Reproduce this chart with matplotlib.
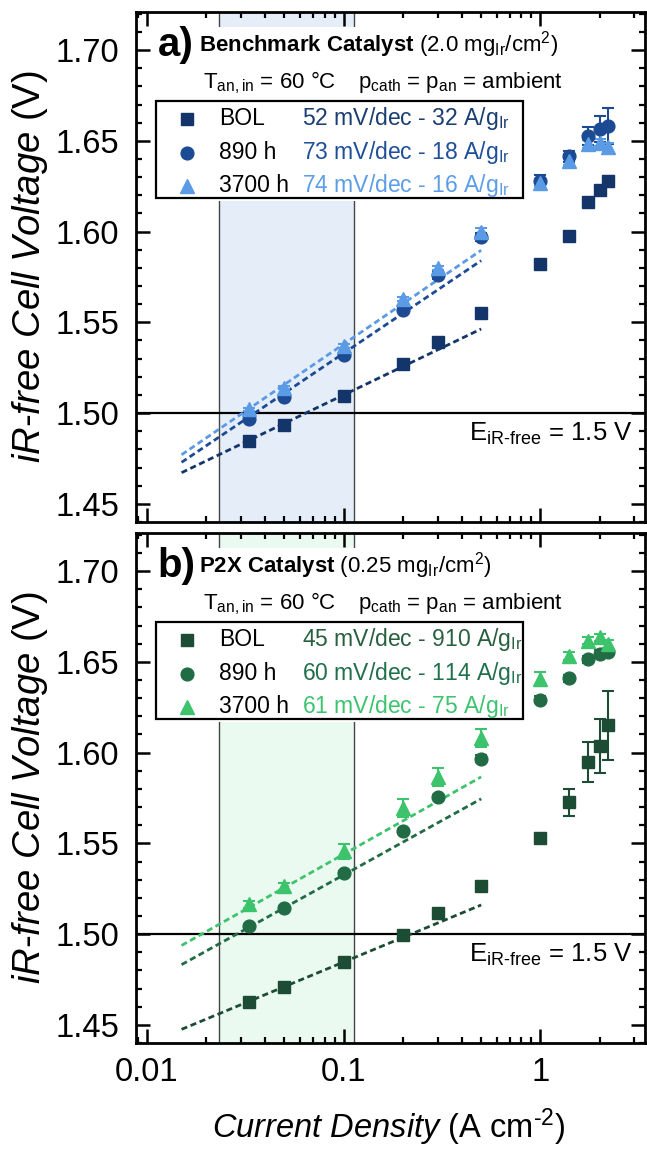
import numpy as np
import matplotlib
matplotlib.use("Agg")
import matplotlib.pyplot as plt
from matplotlib.patches import Rectangle
from matplotlib.ticker import MultipleLocator, LogLocator, NullFormatter, FuncFormatter

plt.rcParams['font.family'] = ['Liberation Sans', 'DejaVu Sans']
plt.rcParams['mathtext.fontset'] = 'custom'
plt.rcParams['mathtext.rm'] = 'Liberation Sans'
plt.rcParams['mathtext.it'] = 'Liberation Sans:italic'
plt.rcParams['mathtext.bf'] = 'Liberation Sans:bold'

# current density (A/cm2)
j = [0.033, 0.05, 0.1, 0.2, 0.3, 0.5, 1.0, 1.4, 1.75, 2.0, 2.2]

# panel a: benchmark catalyst
a_bol = [1.4846, 1.4934, 1.5094, 1.527, 1.539, 1.555, 1.5823, 1.5975, 1.6164, 1.6229, 1.6278]
a_890 = [1.497, 1.509, 1.532, 1.557, 1.576, 1.597, 1.628, 1.6416, 1.6526, 1.6565, 1.6581]
a_3700 = [1.502, 1.514, 1.537, 1.563, 1.580, 1.600, 1.6269, 1.6388, 1.6482, 1.649, 1.6466]
a_bol_err = [0.001, 0.001, 0.001, 0.001, 0.001, 0.001, 0.001, 0.001, 0.002, 0.002, 0.003]
a_890_err = [0.001, 0.001, 0.001, 0.001, 0.002, 0.002, 0.003, 0.003, 0.005, 0.007, 0.010]
a_3700_err = [0.001, 0.001, 0.001, 0.001, 0.001, 0.002, 0.002, 0.002, 0.002, 0.002, 0.002]

# panel b: P2X catalyst
b_bol = [1.4627, 1.4709, 1.4846, 1.4995, 1.5115, 1.5264, 1.5527, 1.5727, 1.5949, 1.6038, 1.6151]
b_890 = [1.5044, 1.5143, 1.5335, 1.557, 1.5758, 1.5966, 1.6291, 1.641, 1.6515, 1.6543, 1.6554]
b_3700 = [1.5165, 1.5264, 1.5456, 1.5697, 1.5868, 1.608, 1.6405, 1.6532, 1.6616, 1.6636, 1.6598]
b_bol_err = [0.001, 0.001, 0.001, 0.001, 0.001, 0.001, 0.001, 0.0075, 0.011, 0.015, 0.019]
b_890_err = [0.001, 0.001, 0.001, 0.001, 0.001, 0.002, 0.002, 0.002, 0.002, 0.002, 0.002]
b_3700_err = [0.002, 0.002, 0.004, 0.005, 0.005, 0.005, 0.004, 0.002, 0.002, 0.002, 0.002]

# Tafel fits: slope (mV/dec) and voltage at 0.1 A/cm2, drawn over tafel_j
tafel_j = [0.015, 0.5]
a_slope = [52, 73, 74]
a_v01 = [1.510, 1.533, 1.538]
b_slope = [45, 60, 61]
b_v01 = [1.4846, 1.5326, 1.544]

# fit window shown as shaded band
fit_window = [0.0232, 0.1125]

labels = ['BOL', '890 h', '3700 h']
a_stats = [r'52 mV/dec - 32 A/g$_\mathrm{Ir}$', r'73 mV/dec - 18 A/g$_\mathrm{Ir}$',
           r'74 mV/dec - 16 A/g$_\mathrm{Ir}$']
b_stats = [r'45 mV/dec - 910 A/g$_\mathrm{Ir}$', r'60 mV/dec - 114 A/g$_\mathrm{Ir}$',
           r'61 mV/dec - 75 A/g$_\mathrm{Ir}$']

a_colors = ['#14356a', '#1c4b94', '#5b9be6']
a_text_colors = ['#1a3d72', '#1f4f98', '#5c9de8']
b_colors = ['#1c4c33', '#216c45', '#3ec36d']
b_text_colors = ['#28603f', '#20704a', '#3dc46f']

markers = ['s', 'o', '^']
msizes = [8.8, 9.2, 10.2]


def draw_panel(ax, series, errs, slopes, v01s, colors, text_colors, stats,
               shade, tag, title):
    ax.set_xscale('log')
    ax.set_xlim(0.0088, 3.4)
    ax.set_ylim(1.44, 1.721)

    ax.axvspan(fit_window[0], fit_window[1], color=shade, zorder=0.3, lw=0)
    for xv in fit_window:
        ax.axvline(xv, color='#444444', lw=1.0, zorder=0.4)
    # white backing behind header and legend
    ax.add_patch(Rectangle((0.03, 0.63), 0.74, 0.34, transform=ax.transAxes,
                           facecolor='white', edgecolor='none', zorder=0.6))

    ax.axhline(1.5, color='black', lw=1.6, zorder=1)

    jj = np.array(tafel_j)
    for s, v0, c in zip(slopes, v01s, colors):
        ax.plot(jj, v0 + s / 1000.0 * np.log10(jj / 0.1), color=c, lw=2,
                dashes=(2.2, 1.3), zorder=2)

    for v, e, c, m, ms in zip(series, errs, colors, markers, msizes):
        ax.errorbar(j, v, yerr=e, fmt=m, color=c, ms=ms, capsize=4.3,
                    elinewidth=1.5, capthick=1.5, zorder=3)

    ax.text(0.976, 1.4958, r'E$_\mathrm{iR‐free}$ = 1.5 V', ha='right', va='top',
            fontsize=18.5, transform=ax.get_yaxis_transform(), zorder=4)

    # header
    ax.text(0.043, 0.914, tag, fontsize=29, fontweight='bold', ha='left',
            va='baseline', transform=ax.transAxes, zorder=5)
    ax.text(0.124, 0.9235, title, fontsize=16, ha='left', va='baseline',
            transform=ax.transAxes, zorder=5)
    ax.text(0.132, 0.851, r'T$_\mathrm{an,in}$ = 60 °C', fontsize=16, ha='left',
            va='baseline', transform=ax.transAxes, zorder=5)
    ax.text(0.436, 0.851, r'p$_\mathrm{cath}$ = p$_\mathrm{an}$ = ambient',
            fontsize=16, ha='left', va='baseline', transform=ax.transAxes, zorder=5)

    # legend box
    ax.add_patch(Rectangle((0.039, 0.635), 0.721, 0.1905, transform=ax.transAxes,
                           facecolor='white', edgecolor='black', lw=1.6, zorder=5))
    rows = [0.791, 0.724, 0.659]
    for y, lab, st, c, tc, m, ms in zip(rows, labels, stats, colors, text_colors,
                                        markers, msizes):
        ax.plot([0.1002], [y], marker=m, color=c, ms=ms, ls='none',
                transform=ax.transAxes, zorder=6, clip_on=False)
        ax.text(0.163, y, lab, fontsize=16.5, ha='left', va='center',
                transform=ax.transAxes, zorder=6)
        ax.text(0.327, y, st, fontsize=16.5, ha='left', va='center', color=tc,
                transform=ax.transAxes, zorder=6)

    ax.yaxis.set_major_locator(MultipleLocator(0.05))
    ax.yaxis.set_minor_locator(MultipleLocator(0.01))
    ax.yaxis.set_major_formatter(FuncFormatter(lambda v, p: f'{v:.2f}'))
    ax.xaxis.set_major_locator(LogLocator(base=10, numticks=10))
    ax.xaxis.set_minor_locator(LogLocator(base=10, subs=np.arange(2, 10), numticks=10))
    ax.xaxis.set_minor_formatter(NullFormatter())
    ax.xaxis.set_major_formatter(FuncFormatter(lambda v, p: f'{v:g}'))
    ax.tick_params(which='both', direction='in', top=True, right=True)
    ax.tick_params(which='major', length=10, width=1.8, labelsize=23.5)
    ax.tick_params(which='minor', length=4.5, width=1.6)
    ax.tick_params(axis='x', pad=10)
    ax.tick_params(axis='y', pad=12)
    for sp in ax.spines.values():
        sp.set_linewidth(2)

    ax.set_ylabel(r'$\mathit{iR‐free\ Cell\ Voltage}$ (V)', fontsize=27.5)
    ax.yaxis.label.set_va('baseline')
    ax.yaxis.set_label_coords(-0.1886, 0.5)


fig = plt.figure(figsize=(6.47, 11.54), dpi=100)
ax_a = fig.add_axes([0.2102, 0.5477, 0.7867, 0.4419])
ax_b = fig.add_axes([0.2102, 0.0962, 0.7867, 0.4419])

draw_panel(ax_a, [a_bol, a_890, a_3700], [a_bol_err, a_890_err, a_3700_err],
           a_slope, a_v01, a_colors, a_text_colors, a_stats, '#e5eef8', 'a)',
           r'$\mathbf{Benchmark\ Catalyst}$ (2.0 mg$_\mathrm{Ir}$/cm$^2$)')
draw_panel(ax_b, [b_bol, b_890, b_3700], [b_bol_err, b_890_err, b_3700_err],
           b_slope, b_v01, b_colors, b_text_colors, b_stats, '#ebfaf1', 'b)',
           r'$\mathbf{P2X\ Catalyst}$ (0.25 mg$_\mathrm{Ir}$/cm$^2$)')

ax_a.tick_params(axis='x', labelbottom=False)
ax_b.set_xlabel(r'$\mathit{Current\ Density}$ (A cm$^{‐2}$)', fontsize=23.5)
ax_b.xaxis.label.set_va('baseline')
ax_b.xaxis.set_label_coords(0.497, -0.186)

fig.savefig('out.png', dpi=100)
